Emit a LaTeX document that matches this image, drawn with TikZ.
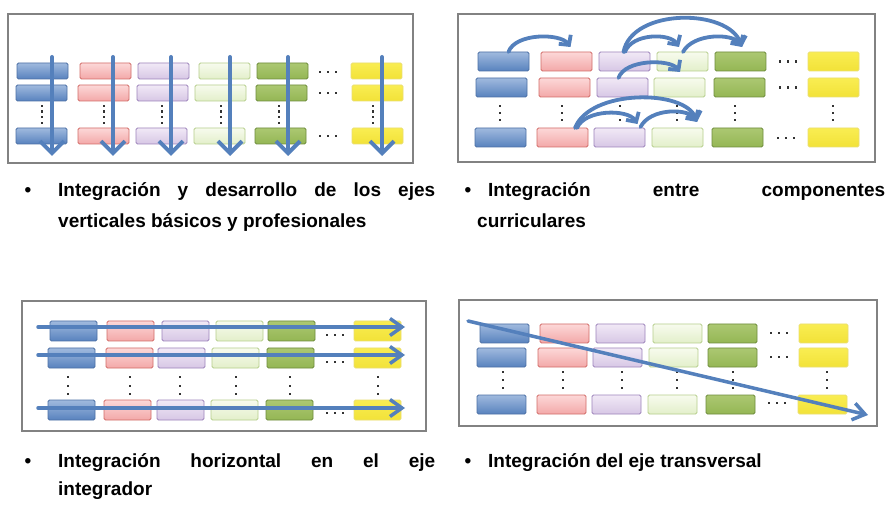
\documentclass[tikz,border=0pt]{standalone}
\usepackage{fontspec}
\setmainfont{Liberation Sans}
\usetikzlibrary{arrows.meta}
\definecolor{arrowblue}{RGB}{84,128,188}
\definecolor{frameC}{RGB}{130,130,130}
\definecolor{blT}{RGB}{160,186,222}\definecolor{blM}{RGB}{88,130,190}\definecolor{blB}{RGB}{76,112,165}
\definecolor{rdT}{RGB}{252,216,216}\definecolor{rdM}{RGB}{243,168,168}\definecolor{rdB}{RGB}{210,108,104}
\definecolor{puT}{RGB}{241,233,246}\definecolor{puM}{RGB}{215,199,229}\definecolor{puB}{RGB}{157,132,187}
\definecolor{lgT}{RGB}{247,251,238}\definecolor{lgM}{RGB}{227,239,202}\definecolor{lgB}{RGB}{182,206,140}
\definecolor{dgT}{RGB}{172,200,114}\definecolor{dgM}{RGB}{148,182,84}\definecolor{dgB}{RGB}{110,140,60}
\definecolor{yeT}{RGB}{249,237,82}\definecolor{yeM}{RGB}{242,226,56}\definecolor{yeB}{RGB}{234,222,112}
\newcommand\hdts[2]{\foreach \k in {-1,0,1}{\fill[black!80] (#1+\k*8-1.2,#2-1.2) rectangle ++(2.4,2.4);}}
\newcommand\vdts[3]{\foreach \yy in {#2}{\fill[black!80] (#1-1.2,\yy-1.2) rectangle ++(2.4,2.4);}}
\tikzset{
  bx/.style={draw=#1B, top color=#1T, bottom color=#1M, rounded corners=1.5pt, line width=0.9pt,
     inner sep=0pt, outer sep=0pt, anchor=north west},
  frm/.style={draw=frameC, line width=1.4pt, fill=white},
  varr/.style={draw=arrowblue, line width=4pt, line cap=round, line join=round,
     -{Straight Barb[length=12pt,width=24pt,line width=4pt]}},
  harr/.style={draw=arrowblue, line width=3.5pt, line cap=round, line join=round,
     -{Straight Barb[length=12pt,width=17pt,line width=3.5pt]}},
  carr/.style={draw=arrowblue, line width=3.8pt, line cap=round, line join=round,
     -{Straight Barb[length=7pt,width=15pt,line width=3.8pt]}},
  txt/.style={font=\fontsize{19}{23}\selectfont\bfseries, inner sep=0pt, anchor=base west},
  bul/.style={font=\fontsize{19}{23}\selectfont\bfseries, inner sep=0pt, anchor=base}
}
\begin{document}
\begin{tikzpicture}[x=1pt,y=-1pt]
\useasboundingbox[fill=white] (0,0) rectangle (887,505);
% ---------------- Panel 1 ----------------
\draw[frm] (8,14) rectangle (413,163);
\foreach \x/\c [count=\i] in {17/bl,80/rd,138/pu,199/lg,257/dg,351/ye}
  {\node[bx=\c, minimum width=51pt, minimum height=16pt] (P1-1-\i) at (\x,63) {};}
\foreach \x/\c [count=\i] in {16/bl,78/rd,137/pu,195/lg,256/dg,352/ye}
  {\node[bx=\c, minimum width=51pt, minimum height=16pt] (P1-2-\i) at (\x,85) {};}
\foreach \x/\c [count=\i] in {16/bl,78/rd,136/pu,194/lg,255/dg,352/ye}
  {\node[bx=\c, minimum width=51pt, minimum height=16pt] (P1-3-\i) at (\x,128) {};}
\hdts{328}{72}\hdts{328}{93}\hdts{328}{136}
\foreach \x in {42,104,162,221,279,373}{\vdts{\x}{106,111.7,117.3,123}{}}
\foreach \x [count=\i] in {52,113,171,230,288,382}{
  \coordinate (P1a\i) at (\x,57); \coordinate (P1b\i) at (\x,156);
  \draw[varr] (P1a\i) -- (P1b\i);}
% ---------------- Panel 2 ----------------
\draw[frm] (458,14) rectangle (875,162);
\foreach \x/\c [count=\i] in {478/bl,541/rd,599/pu,657/lg,715/dg,808/ye}
  {\node[bx=\c, minimum width=51pt, minimum height=19pt] (P2-1-\i) at (\x,52) {};}
\foreach \x/\c [count=\i] in {476/bl,539/rd,597/pu,654/lg,714/dg,808/ye}
  {\node[bx=\c, minimum width=51pt, minimum height=19pt] (P2-2-\i) at (\x,78) {};}
\foreach \x/\c [count=\i] in {475/bl,537/rd,594/pu,652/lg,712/dg,808/ye}
  {\node[bx=\c, minimum width=51pt, minimum height=19pt] (P2-3-\i) at (\x,128) {};}
\hdts{788}{61.5}\hdts{788}{87.5}\hdts{786}{138}
\foreach \x in {500,562,620,677,735,833}{\vdts{\x}{106,113,120}{}}
% arcs row 1
\draw[carr] ([xshift=5pt]P2-1-1.north) .. controls (515,33) and (560,33) .. ([xshift=4pt,yshift=5pt]P2-1-2.north);
\draw[carr] ([xshift=-1pt]P2-1-3.north) .. controls (632,8) and (728,8) .. ([xshift=1.5pt,yshift=5pt]P2-1-5.north);
\draw[carr] ([xshift=0.5pt]P2-1-3.north) .. controls (632,33) and (670,33) .. ([xshift=-3.5pt,yshift=5pt]P2-1-4.north);
\draw[carr] ([xshift=0.5pt]P2-1-4.north) .. controls (693,33) and (733,33) .. ([xshift=1.5pt,yshift=5pt]P2-1-5.north);
% arc row 2
\draw[carr] ([xshift=-4pt]P2-2-3.north) .. controls (625,59) and (670,59) .. ([xshift=0.5pt,yshift=6pt]P2-2-4.north);
% arcs row 3
\draw[carr] ([xshift=12.5pt]P2-3-2.north) .. controls (590,89) and (685,89) .. ([xshift=19.5pt,yshift=6pt]P2-3-4.north);
\draw[carr] ([xshift=14.5pt]P2-3-2.north) .. controls (585,109) and (628,109) .. ([xshift=18pt,yshift=4pt]P2-3-3.north);
\draw[carr] ([xshift=21pt,yshift=1pt]P2-3-3.north) .. controls (650,108) and (688,108) .. ([xshift=19.5pt,yshift=6pt]P2-3-4.north);
% ---------------- Panel 3 ----------------
\draw[frm] (22,301) rectangle (426,431);
\foreach \x/\c [count=\i] in {50/bl,107/rd,162/pu,216/lg,268/dg,354/ye}
  {\node[bx=\c, minimum width=47pt, minimum height=20pt] (P3-1-\i) at (\x,321) {};}
\foreach \x/\c [count=\i] in {48/bl,106/rd,158/pu,212/lg,267/dg,354/ye}
  {\node[bx=\c, minimum width=47pt, minimum height=20pt] (P3-2-\i) at (\x,348) {};}
\foreach \x/\c [count=\i] in {48/bl,104/rd,157/pu,211/lg,266/dg,354/ye}
  {\node[bx=\c, minimum width=47pt, minimum height=20pt] (P3-3-\i) at (\x,400) {};}
\hdts{335}{335}\hdts{335}{362}\hdts{335}{413}
\foreach \x in {68,130,180,236,290,378}{\vdts{\x}{377,386,394}{}}
\foreach \y [count=\i] in {327,355,408}{
  \coordinate (P3a\i) at (38,\y); \coordinate (P3b\i) at (405,\y);
  \draw[harr] (P3a\i) -- (P3b\i);}
% ---------------- Panel 4 ----------------
\draw[frm] (459,300) rectangle (877,426);
\foreach \x/\c [count=\i] in {480/bl,540/rd,596/pu,653/lg,708/dg,799/ye}
  {\node[bx=\c, minimum width=49pt, minimum height=19pt] (P4-1-\i) at (\x,324) {};}
\foreach \x/\c [count=\i] in {477/bl,538/rd,593/pu,649/lg,708/dg,799/ye}
  {\node[bx=\c, minimum width=49pt, minimum height=19pt] (P4-2-\i) at (\x,348) {};}
\foreach \x/\c [count=\i] in {477/bl,537/rd,592/pu,648/lg,706/dg,798/ye}
  {\node[bx=\c, minimum width=49pt, minimum height=19pt] (P4-3-\i) at (\x,395) {};}
\hdts{779}{333}\hdts{779}{357}\hdts{777}{403}
\foreach \x in {503,563,622,677,733,827}{\vdts{\x}{372,380,388}{}}
\coordinate (P4a) at (468,321); \coordinate (P4b) at (868,415);
\draw[harr] (P4a) -- (P4b);
% ---------------- Texts ----------------
\node[bul] (b1) at (28,197) {•};
\node[txt] (t1a) at (58,197) {\makebox[377pt][s]{Integración y desarrollo de los ejes}};
\node[txt] (t1b) at (58,228) {verticales básicos y profesionales};
\node[bul] (b2) at (468,197) {•};
\node[txt] (t2a) at (488,197) {\makebox[397pt][s]{Integración entre componentes}};
\node[txt] (t2b) at (477,228) {curriculares};
\node[bul] (b3) at (28,467) {•};
\node[txt] (t3a) at (58,467) {\makebox[377pt][s]{Integración horizontal en el eje}};
\node[txt] (t3b) at (58,495) {integrador};
\node[bul] (b4) at (468,467) {•};
\node[txt] (t4a) at (488,467) {Integración del eje transversal};
\end{tikzpicture}
\end{document}
